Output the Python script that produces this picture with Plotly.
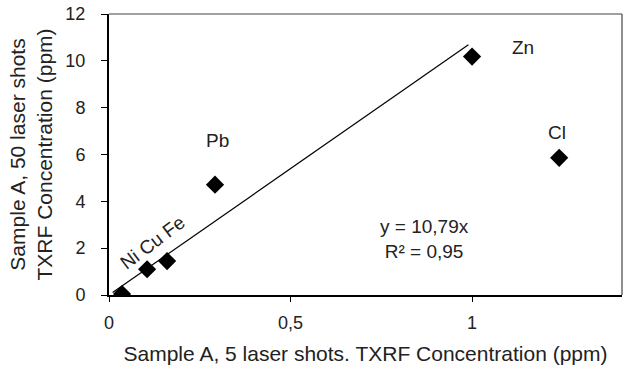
import plotly.graph_objects as go

elements = ["Ni", "Cu", "Fe", "Pb", "Zn", "Cl"]
x_vals = [0.036, 0.105, 0.16, 0.292, 1.0, 1.24]
y_vals = [0.04, 1.1, 1.45, 4.71, 10.18, 5.86]
slope = 10.79
trend_x = [0.01, 0.99]
trend_y = [slope * v for v in trend_x]

font = "Liberation Sans, Arial, sans-serif"
txt = "#222"
fig = go.Figure()
fig.add_trace(go.Scatter(x=trend_x, y=trend_y, mode="lines",
                         line=dict(color="black", width=1.2), showlegend=False))
fig.add_trace(go.Scatter(x=x_vals, y=y_vals, mode="markers",
                         marker=dict(symbol="diamond", size=14, color="black"),
                         showlegend=False))

# element labels
fig.add_annotation(x=0.12, y=2.25, text="Ni Cu Fe", showarrow=False, textangle=-37,
                   font=dict(family=font, size=19, color=txt))
fig.add_annotation(x=0.30, y=6.58, text="Pb", showarrow=False,
                   font=dict(family=font, size=19, color=txt))
fig.add_annotation(x=1.14, y=10.59, text="Zn", showarrow=False,
                   font=dict(family=font, size=19, color=txt))
fig.add_annotation(x=1.234, y=6.92, text="Cl", showarrow=False,
                   font=dict(family=font, size=19, color=txt))
fig.add_annotation(x=0.87, y=2.39, text="y = 10,79x<br>R² = 0,95", showarrow=False,
                   font=dict(family=font, size=19, color=txt), align="center")

fig.update_layout(
    width=629, height=365,
    margin=dict(l=109, r=7, t=14, b=70, autoexpand=False),
    paper_bgcolor="white", plot_bgcolor="white",
    font=dict(family=font, size=18, color=txt),
    xaxis=dict(range=[0, 1.413], tickvals=[0, 0.5, 1], ticktext=["0", "0,5", "1"],
               showgrid=False, zeroline=False, showline=True, linecolor="black",
               linewidth=2, ticks="outside", ticklen=5, tickcolor="black",
               ticklabelstandoff=5, automargin=False,
               title=dict(text="Sample A, 5 laser shots. TXRF Concentration (ppm)",
                          font=dict(size=21), standoff=16)),
    yaxis=dict(range=[0, 12], tickvals=[0, 2, 4, 6, 8, 10, 12],
               showgrid=False, zeroline=False, showline=True, linecolor="black",
               linewidth=2, ticks="outside", ticklen=6, tickcolor="black",
               ticklabelstandoff=12, automargin=False,
               title=dict(text="Sample A, 50 laser shots<br>TXRF Concentration (ppm)",
                          font=dict(size=21), standoff=7)),
)
# top and right frame lines
fig.add_shape(type="line", xref="paper", yref="paper", x0=0, x1=1, y0=1, y1=1,
              line=dict(color="#444", width=1.2))
fig.add_shape(type="line", xref="paper", yref="paper", x0=1, x1=1, y0=0, y1=1,
              line=dict(color="#444", width=1.2))
fig.write_html("out.html")
